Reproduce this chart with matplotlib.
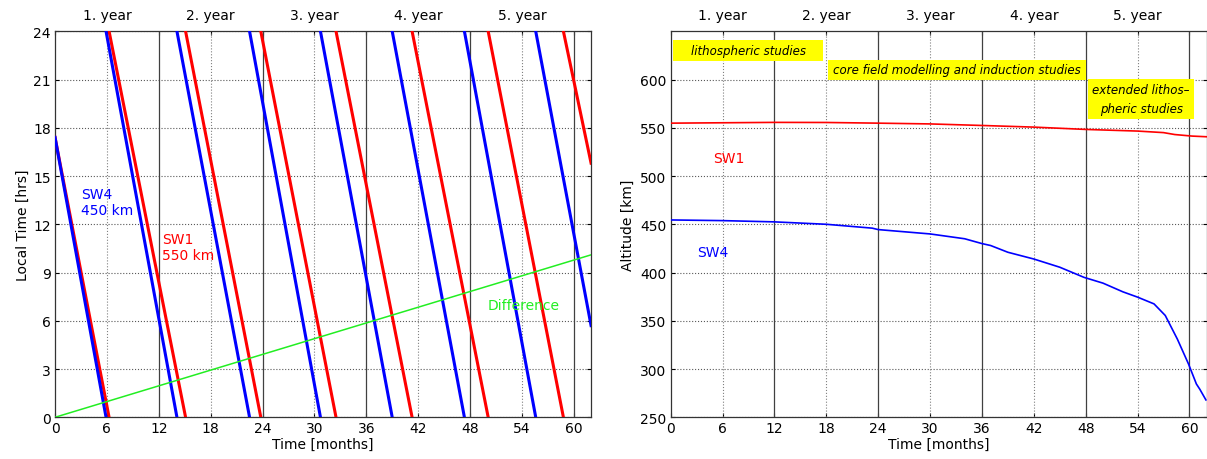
import numpy as np
import matplotlib.pyplot as plt
from matplotlib.patches import Rectangle

# --- left panel: local time drift of the two orbits ---
# months where local time wraps from 0 h back to 24 h
sw4_wraps = [5.9, 14.1, 22.5, 30.7, 39.0, 47.35, 55.6]
sw1_wraps = [6.25, 15.1, 23.8, 32.5, 41.3, 50.1, 58.8]
lt_start = 17.4          # both start at the same local time
sw4_lt_end = 5.7
sw1_lt_end = 15.8
t_end = 62.0
diff_months = [0, 62.0]
diff_hours = [0, 10.1]

# --- right panel: altitude decay ---
sw1_months = [0, 6, 12, 18, 24, 30, 36, 42, 48, 54, 57, 58.3, 60.3, 62]
sw1_alt = [554.8, 555.2, 555.6, 555.5, 554.8, 554.0, 552.4, 550.7, 548.3, 546.6, 545.0, 543.0, 541.4, 540.7]
sw4_months = [0, 6, 12, 18, 23.3, 24, 30, 34, 36, 37, 39, 42, 45, 47.8, 50, 52.3, 54, 55.9,
              57.2, 58.6, 59.9, 60.8, 61.2, 61.9]
sw4_alt = [454.5, 453.8, 452.5, 450.0, 446.0, 444.5, 440.0, 435.0, 430.0, 428.0, 421.0, 414.0,
           405.5, 395.0, 389.0, 380.0, 374.5, 367.5, 355.5, 331.0, 305.0, 284.5, 279.0, 268.0]

years = ["1. year", "2. year", "3. year", "4. year", "5. year"]
year_centres = [6, 18, 30, 42, 54]

mission_phases = ["lithospheric studies",
                  "core field modelling and induction studies",
                  "extended lithos\u2013\npheric studies"]
phase_boxes = [(0.3, 619.7, 17.6, 641.4),
               (18.2, 599.3, 48.0, 620.7),
               (48.3, 559.6, 60.5, 601.0)]


def sawtooth(wraps, start, end):
    xs, ys = [0], [start]
    for w in wraps:
        xs += [w, np.nan, w]
        ys += [0, np.nan, 24]
    xs.append(t_end)
    ys.append(end)
    return xs, ys


def matlab_grid(ax):
    ax.set_xticks(range(0, 61, 6))
    for m in range(6, 61, 6):
        if m % 12 == 0:
            ax.axvline(m, color='0.25', lw=0.9, zorder=1)
        else:
            ax.axvline(m, color='0.5', lw=0.8, ls=':', zorder=1)
    ax.grid(axis='y', ls=':', color='0.35', lw=0.8)
    ax.set_axisbelow(True)
    ax.tick_params(direction='in', length=3, top=True, right=True, labelsize=10, pad=3)
    for s in ax.spines.values():
        s.set_linewidth(0.9)
        s.set_color('0.2')
    for c, lab in zip(year_centres, years):
        ax.text(c, 1.024, lab, transform=ax.get_xaxis_transform(),
                ha='center', va='bottom', fontsize=10)
    ax.set_xlabel("Time [months]", fontsize=10, labelpad=1)


fig = plt.figure(figsize=(12.07, 4.6), dpi=100)
ax1 = fig.add_axes([0.0456, 0.0907, 0.4441, 0.8391])
ax2 = fig.add_axes([0.5557, 0.0907, 0.4441, 0.8391])

x4, y4 = sawtooth(sw4_wraps, lt_start, sw4_lt_end)
x1, y1 = sawtooth(sw1_wraps, lt_start, sw1_lt_end)
ax1.plot(x1, y1, color='#ff0000', lw=2.2, zorder=3)
ax1.plot(x4, y4, color='#0000ff', lw=2.2, zorder=3)
ax1.plot(diff_months, diff_hours, color='#22ee22', lw=1.1, zorder=4)
ax1.set_xlim(0, 62)
ax1.set_ylim(0, 24)
ax1.set_yticks(range(0, 25, 3))
ax1.set_ylabel("Local Time [hrs]", fontsize=10, labelpad=2)
matlab_grid(ax1)
ax1.text(3.0, 13.4, "SW4\n450 km", color='#0000ff', fontsize=10, va='center', linespacing=1.15)
ax1.text(12.4, 10.6, "SW1\n550 km", color='#ff0000', fontsize=10, va='center', linespacing=1.15)
ax1.text(50.0, 7.0, "Difference", color='#22ee22', fontsize=10, va='center')

ax2.plot(sw1_months, sw1_alt, color='#ff0000', lw=1.2, zorder=3)
ax2.plot(sw4_months, sw4_alt, color='#0000ff', lw=1.2, zorder=3)
ax2.set_xlim(0, 62)
ax2.set_ylim(250, 650)
ax2.set_yticks(range(250, 601, 50))
ax2.set_ylabel("Altitude [km]", fontsize=10, labelpad=4)
matlab_grid(ax2)
ax2.text(6.7, 519, "SW1", color='#ff0000', fontsize=10, ha='center', va='center')
ax2.text(4.9, 421, "SW4", color='#0000ff', fontsize=10, ha='center', va='center')

for txt, (x0, y0, xr, yt) in zip(mission_phases, phase_boxes):
    ax2.add_patch(Rectangle((x0, y0), xr - x0, yt - y0, facecolor='#ffff00',
                            edgecolor='none', zorder=5))
    ax2.text((x0 + xr) / 2, (y0 + yt) / 2, txt, style='italic', fontsize=8.5,
             ha='center', va='center', zorder=6, linespacing=1.6)

fig.savefig("out.png", dpi=100)
